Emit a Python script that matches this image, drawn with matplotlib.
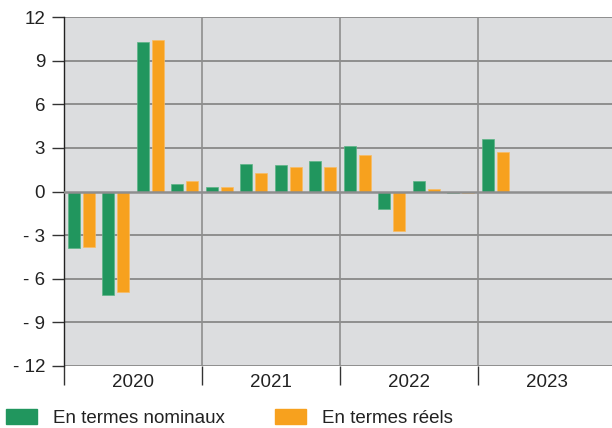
import numpy as np
import matplotlib.pyplot as plt
from matplotlib.patches import Patch

plt.rcParams['font.family'] = ['Liberation Sans', 'DejaVu Sans']

years = ['2020', '2021', '2022', '2023']
nominal = [-3.9, -7.1, 10.3, 0.5, 0.3, 1.9, 1.8, 2.1, 3.1, -1.2, 0.7, -0.1, 3.6]
real = [-3.8, -6.9, 10.4, 0.7, 0.3, 1.3, 1.7, 1.7, 2.5, -2.7, 0.2, -0.1, 2.7]
yticks = [-12, -9, -6, -3, 0, 3, 6, 9, 12]

green = '#21965e'
orange = '#f7a11e'
grid_c = '#8e8e8e'
fs = 13.5

fig = plt.figure(figsize=(6.12, 4.28), dpi=100)
ax = fig.add_axes([64 / 612, 1 - 366 / 428, 548 / 612, 349 / 428])
ax.set_facecolor('#dcdddf')

x = np.arange(len(nominal))
w = 0.35
ax.bar(x - 0.22, nominal, w, color=green, edgecolor='#5cb486', linewidth=0.5, zorder=3)
ax.bar(x + 0.22, real, w, color=orange, edgecolor='#f9bc63', linewidth=0.5, zorder=3)

ax.set_ylim(-12, 12)
ax.set_xlim(-0.5, 15.38)
ax.set_yticks(yticks)
ax.set_yticklabels([str(v) if v >= 0 else '- {}'.format(-v) for v in yticks], fontsize=fs)
for v in yticks:
    ax.axhline(v, color=grid_c, lw=1.4 if v != 0 else 1.8, zorder=1 if v != 0 else 4)
for b in [3.5, 7.5, 11.5]:
    ax.axvline(b, color=grid_c, lw=1.2, zorder=1)

# annees au centre, separateurs en ticks mineurs
ax.set_xticks([1.5, 5.5, 9.5, 13.5])
ax.set_xticklabels(years, fontsize=fs)
ax.set_xticks([-0.5, 3.5, 7.5, 11.5], minor=True)
ax.tick_params(axis='x', which='major', length=0, pad=5.5, colors='#222222')
ax.tick_params(axis='x', which='minor', length=14, width=1.0, color='#333333')
ax.tick_params(axis='y', length=8.6, width=1.0, pad=5, color='#333333', labelcolor='#222222')

for s in ['top', 'right', 'bottom']:
    ax.spines[s].set_visible(False)
ax.spines['left'].set_color('#222222')
ax.spines['left'].set_linewidth(1.0)

handles = [Patch(color=green, label='En termes nominaux'),
           Patch(color=orange, label='En termes réels')]
fig.legend(handles=handles, loc='center left', bbox_to_anchor=(6 / 612, 1 - 418 / 428), ncol=2,
           frameon=False, fontsize=fs, handlelength=1.65, handleheight=0.8,
           handletextpad=0.85, columnspacing=2.67, borderaxespad=0.0, borderpad=0.0,
           labelcolor='#222222')

fig.savefig('out.png', dpi=100)
